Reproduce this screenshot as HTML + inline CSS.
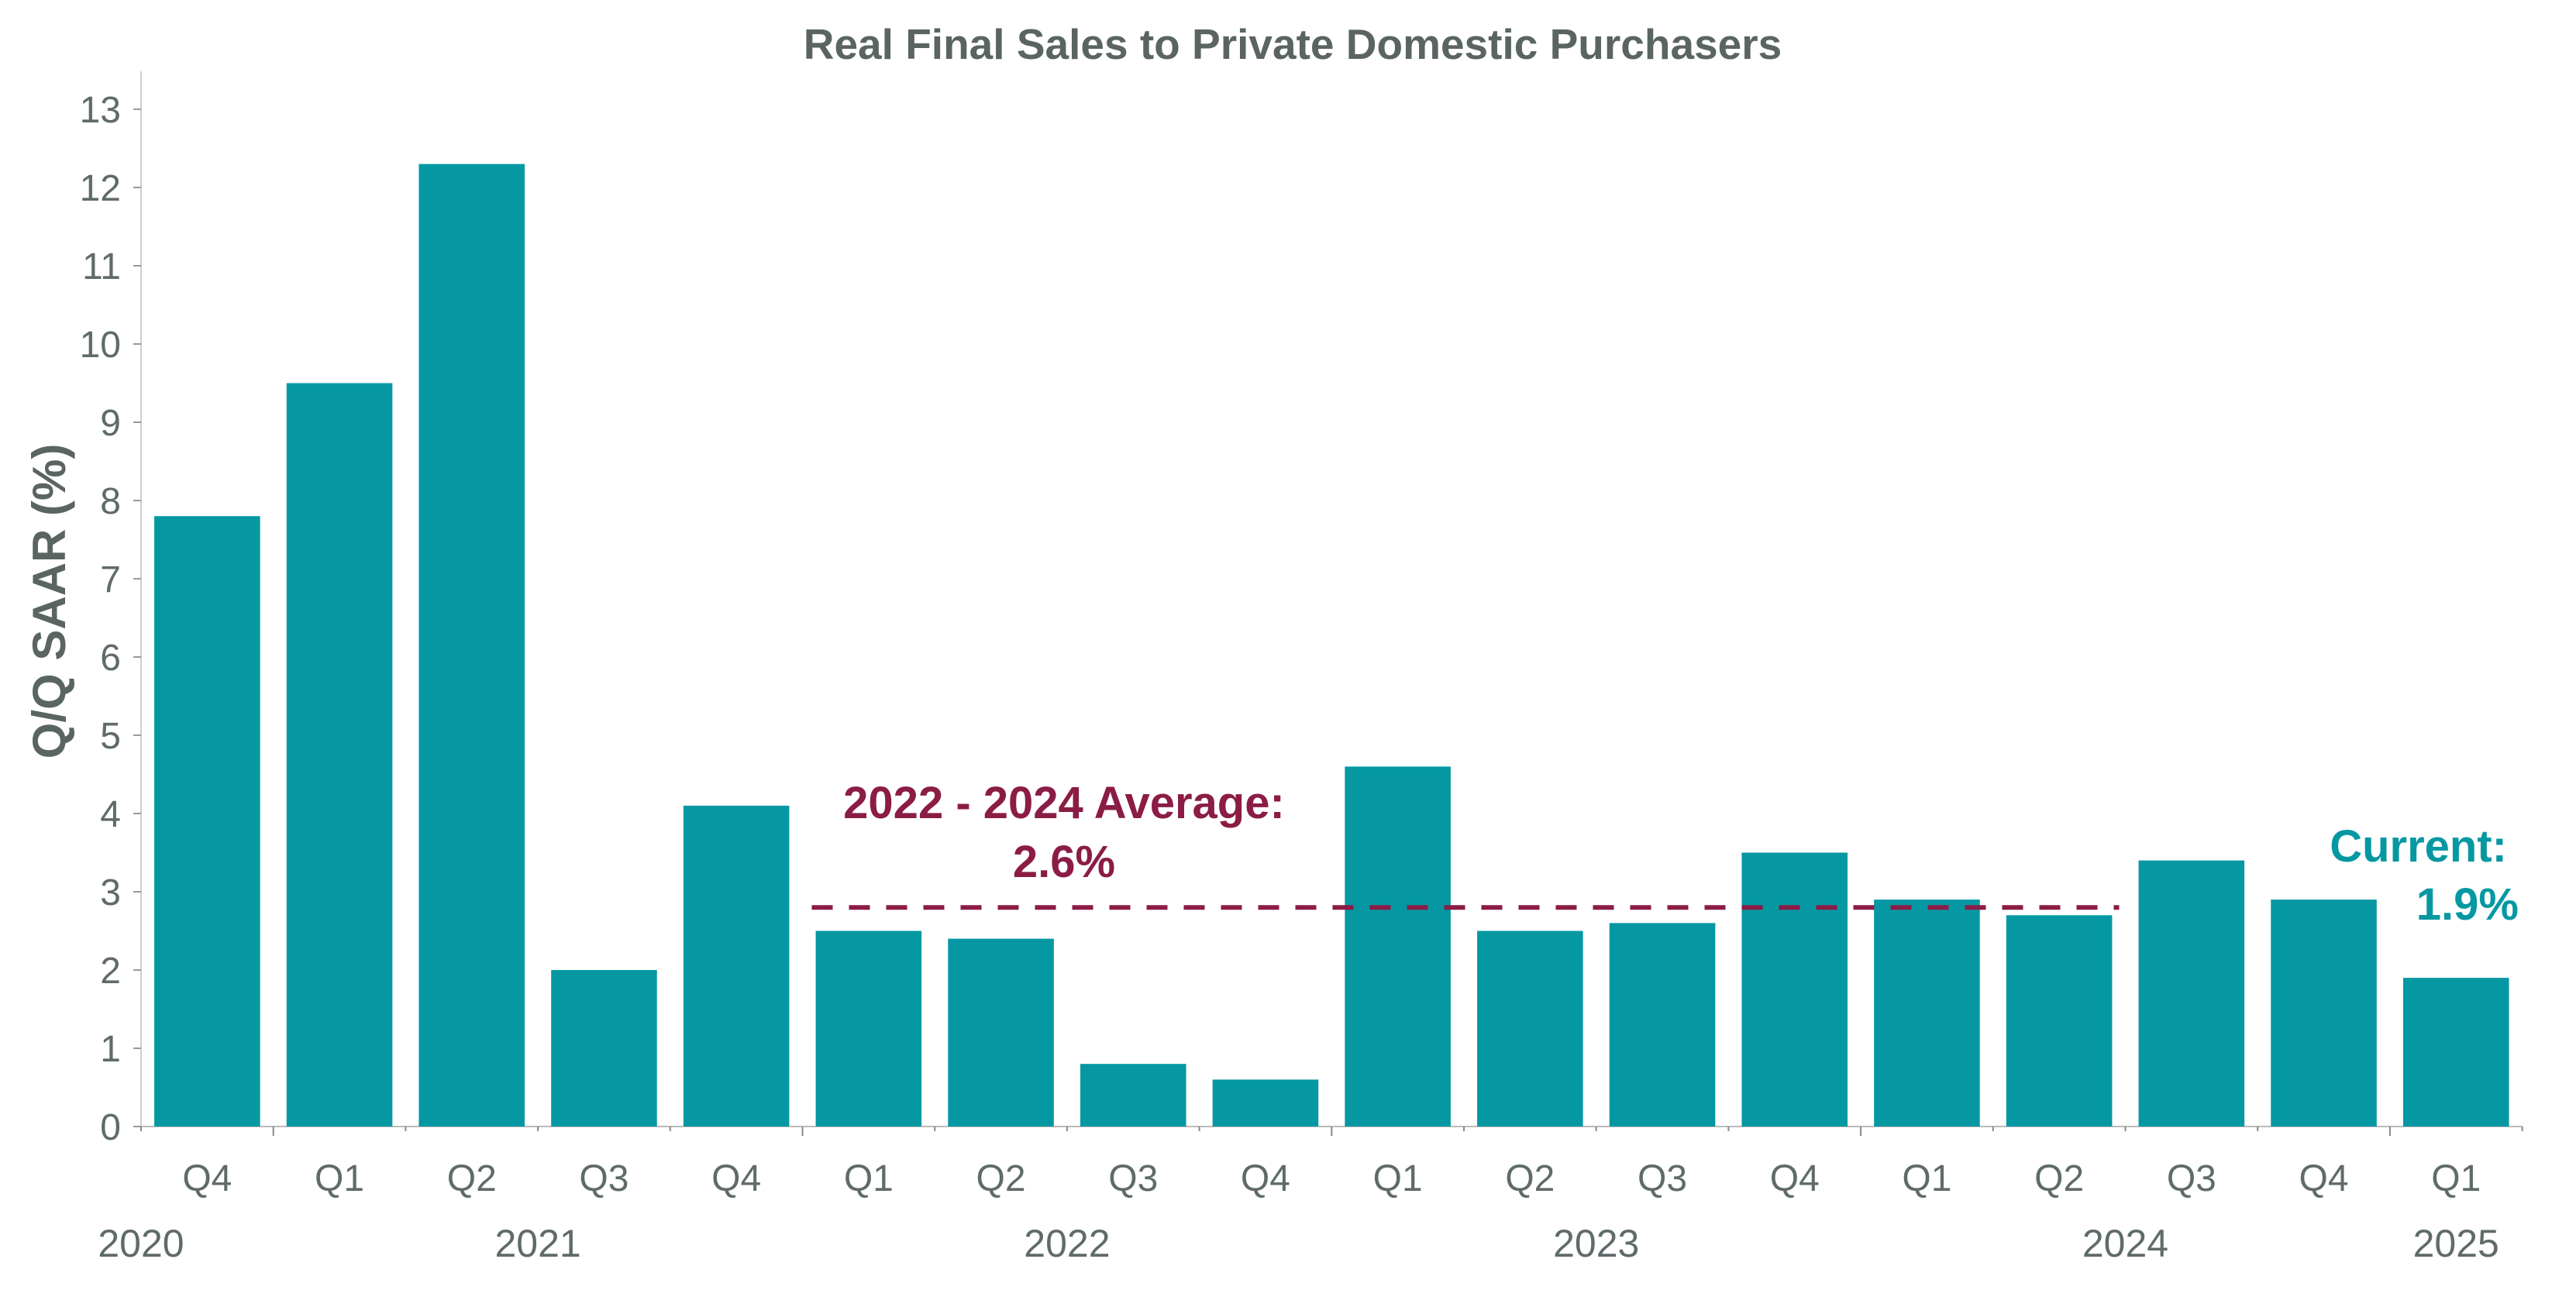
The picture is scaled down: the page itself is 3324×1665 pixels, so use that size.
<!DOCTYPE html>
<html><head><meta charset="utf-8"><style>
html,body{margin:0;padding:0;background:#fff;}
svg{display:block;font-family:"Liberation Sans",sans-serif;}
</style></head><body>
<svg id="chart" width="3324" height="1665" viewBox="0 0 3324 1665" xmlns="http://www.w3.org/2000/svg">
<text x="1668" y="76" text-anchor="middle" font-size="55" font-weight="bold" fill="#5a6563">Real Final Sales to Private Domestic Purchasers</text>
<text transform="translate(84,776) rotate(-90)" text-anchor="middle" font-size="60" font-weight="bold" fill="#5a6563">Q/Q SAAR (%)</text>
<g id="yaxis"></g>
<g id="xaxis"></g>
<g id="bars"></g>
<g id="annot"></g>
</svg>
<script>
const quarters = ["Q4","Q1","Q2","Q3","Q4","Q1","Q2","Q3","Q4","Q1","Q2","Q3","Q4","Q1","Q2","Q3","Q4","Q1"];
const values = [7.8,9.5,12.3,2.0,4.1,2.5,2.4,0.8,0.6,4.6,2.5,2.6,3.5,2.9,2.7,3.4,2.9,1.9];
const yearLabels = ["2020","2021","2022","2023","2024","2025"];
const yearCenters = [0,3,7,11,15,17.5];
const yTicks = [0,1,2,3,4,5,6,7,8,9,10,11,12,13];
const avgValue = 2.8;
const avgStart = 5, avgEnd = 15;

const NS="http://www.w3.org/2000/svg";
const x0=182, band=170.7, y0=1454, unit=101;
const xs = i => x0 + i*band;
const ys = v => y0 - v*unit;
function mk(tag, attrs, parent, text){
  const e=document.createElementNS(NS,tag);
  for(const k in attrs) e.setAttribute(k,attrs[k]);
  if(text!==undefined) e.textContent=text;
  parent.appendChild(e); return e;
}
const ya=document.getElementById('yaxis'), xa=document.getElementById('xaxis'),
      bg=document.getElementById('bars'), an=document.getElementById('annot');
let l=mk('line',{x1:x0,x2:x0,y1:92,y2:y0,stroke:'#d0d0d0','stroke-width':2},ya);


yTicks.forEach(t=>{
  const tk=mk('line',{x1:x0-10,x2:x0,y1:ys(t),y2:ys(t),stroke:'#999','stroke-width':2},ya);
  
  
  const tx=mk('text',{x:x0-26,y:ys(t)+17,'text-anchor':'end','font-size':48,fill:'#5f6b6a'},ya,String(t));
  
  
});
l=mk('line',{x1:x0,x2:xs(quarters.length),y1:y0,y2:y0,stroke:'#bbb','stroke-width':2},xa);


for(let i=0;i<=quarters.length;i++){
  const big = (i<quarters.length && quarters[i]==="Q1");
  const tk=mk('line',{x1:xs(i),x2:xs(i),y1:y0,y2:y0+(big?12:6),stroke:'#888','stroke-width':2},xa);
  
  
}
quarters.forEach((q,i)=>{
  const tx=mk('text',{x:xs(i)+band/2,y:1537,'text-anchor':'middle','font-size':48,fill:'#5f6b6a'},xa,q);
  
  
  const r=mk('rect',{x:xs(i)+band*0.1,y:ys(values[i]),width:band*0.8,height:values[i]*unit,fill:'#0598a2'},bg);
  
  
});
yearLabels.forEach((yl,i)=>{
  const tx=mk('text',{x:xs(yearCenters[i]),y:1622,'text-anchor':'middle','font-size':50,fill:'#5f6b6a'},xa,yl);
  
  
});
l=mk('line',{x1:xs(avgStart)+12,x2:xs(avgEnd)-8,y1:ys(avgValue),y2:ys(avgValue),stroke:'#8b1c45','stroke-width':6,'stroke-dasharray':'27 21'},an);


let t=mk('text',{x:1373,y:1056,'text-anchor':'middle','font-size':58,'font-weight':'bold',fill:'#8b1c45'},an,"2022 - 2024 Average:");


t=mk('text',{x:1373,y:1132,'text-anchor':'middle','font-size':58,'font-weight':'bold',fill:'#8b1c45'},an,"2.6%");


t=mk('text',{x:3235,y:1112,'text-anchor':'end','font-size':58,'font-weight':'bold',fill:'#0598a2'},an,"Current:");


t=mk('text',{x:3250,y:1187,'text-anchor':'end','font-size':58,'font-weight':'bold',fill:'#0598a2'},an,"1.9%");


</script>
</body></html>
